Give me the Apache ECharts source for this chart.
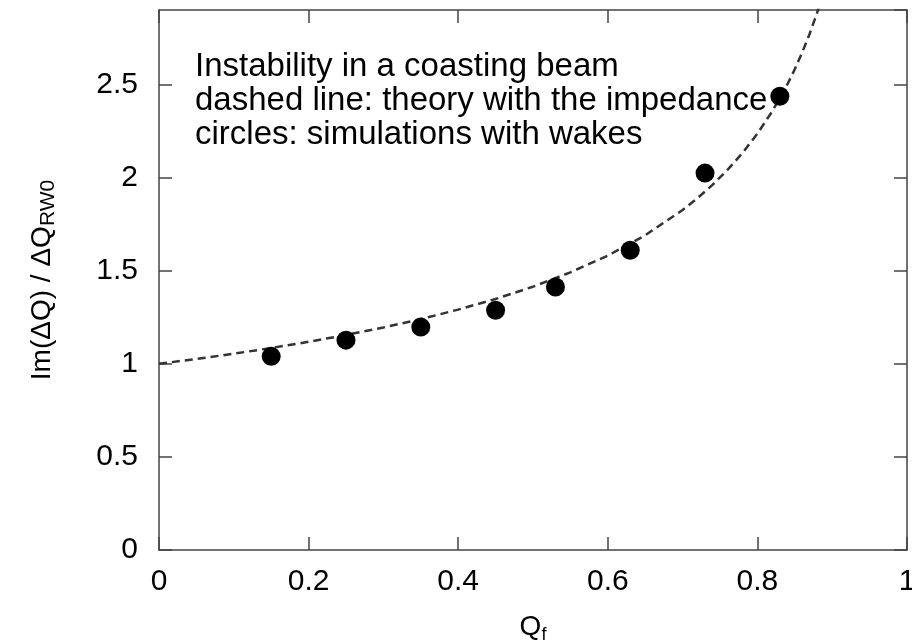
<!DOCTYPE html>
<html>
<head>
<meta charset="utf-8">
<script src="https://cdn.jsdelivr.net/npm/echarts@6/dist/echarts.min.js"></script>
<style>
html,body{margin:0;padding:0;background:#fff;}
#chart{width:912px;height:640px;}
</style>
</head>
<body>
<div id="chart"></div>
<script>
// Theory curve (dashed line)
const theoryQ = [0, 0.05, 0.1, 0.15, 0.2, 0.25, 0.3, 0.35, 0.4, 0.45, 0.5, 0.55, 0.6, 0.65, 0.7, 0.72, 0.74, 0.76, 0.78, 0.8, 0.82, 0.84, 0.85, 0.86, 0.87, 0.88, 0.89];
const theoryY = [1.000, 1.026, 1.054, 1.085, 1.118, 1.155, 1.195, 1.240, 1.291, 1.348, 1.414, 1.491, 1.581, 1.690, 1.826, 1.890, 1.961, 2.041, 2.132, 2.236, 2.357, 2.500, 2.582, 2.673, 2.774, 2.887, 3.015];
// Simulation points (circles)
const simQ = [0.15, 0.25, 0.35, 0.45, 0.53, 0.63, 0.73, 0.83];
const simY = [1.04, 1.127, 1.197, 1.288, 1.412, 1.61, 2.024, 2.437];
// Axis ticks
const xTicks = [0, 0.2, 0.4, 0.6, 0.8, 1];
const yTicks = [0, 0.5, 1, 1.5, 2, 2.5];
const annotation = ['Instability in a coasting beam', 'dashed line: theory with the impedance', 'circles: simulations with wakes'];

const FONT = 'Liberation Sans, Arial, Helvetica, sans-serif';
const axisColor = '#444';
const chart = echarts.init(document.getElementById('chart'), null, {renderer: 'canvas'});

const baseX = {
  type: 'value', min: 0, max: 1, interval: 0.2,
  axisLine: {show: true, onZero: false, lineStyle: {color: axisColor, width: 1.5}},
  axisTick: {show: true, inside: true, length: 13, lineStyle: {color: axisColor, width: 1.5}},
  splitLine: {show: false}
};
const baseY = {
  type: 'value', min: 0, max: 2.9, interval: 0.5,
  axisLine: {show: true, onZero: false, lineStyle: {color: axisColor, width: 1.5}},
  axisTick: {show: true, inside: true, length: 13, lineStyle: {color: axisColor, width: 1.5}},
  splitLine: {show: false}
};

chart.setOption({
  animation: false,
  backgroundColor: '#fff',
  grid: {left: 159, right: 5, top: 10, bottom: 90, containLabel: false, outerBoundsMode: 'none'},
  xAxis: [
    Object.assign({}, baseX, {
      position: 'bottom',
      name: '{m|Q}{s|f}',
      nameLocation: 'middle',
      nameGap: 60,
      nameTextStyle: {
        fontFamily: FONT, color: '#000',
        rich: {
          m: {fontSize: 28, fontFamily: FONT, color: '#000', lineHeight: 34},
          s: {fontSize: 18, fontFamily: FONT, color: '#000', lineHeight: 12, verticalAlign: 'bottom'}
        }
      },
      axisLabel: {
        show: true, margin: 17, fontSize: 30, fontFamily: FONT, color: '#000',
        formatter: v => xTicks.some(t => Math.abs(t - v) < 1e-9) ? String(+v.toFixed(1)) : ''
      }
    }),
    Object.assign({}, baseX, {position: 'top', axisLabel: {show: false}})
  ],
  yAxis: [
    Object.assign({}, baseY, {
      position: 'left',
      name: '{m|Im(ΔQ) / ΔQ}{s|RW0}',
      nameLocation: 'middle',
      nameRotate: 90,
      nameGap: 100,
      nameTextStyle: {
        fontFamily: FONT, color: '#000',
        rich: {
          m: {fontSize: 28, fontFamily: FONT, color: '#000', lineHeight: 34},
          s: {fontSize: 21, fontFamily: FONT, color: '#000', lineHeight: 12, verticalAlign: 'bottom'}
        }
      },
      axisLabel: {
        show: true, margin: 21, fontSize: 30, fontFamily: FONT, color: '#000',
        showMaxLabel: false,
        formatter: v => yTicks.some(t => Math.abs(t - v) < 1e-9) ? String(+v.toFixed(1)) : ''
      }
    }),
    Object.assign({}, baseY, {position: 'right', axisLabel: {show: false}})
  ],
  graphic: [{
    type: 'text',
    left: 195,
    top: 50,
    z: 100,
    style: {
      text: annotation.join('\n'),
      font: '33px ' + FONT,
      fill: '#000',
      lineHeight: 34
    }
  }],
  series: [
    {
      type: 'line',
      xAxisIndex: 0, yAxisIndex: 0,
      data: theoryQ.map((q, i) => [q, theoryY[i]]),
      showSymbol: false,
      symbol: 'none',
      clip: true,
      lineStyle: {color: '#333', width: 2.5, type: [8, 5]},
      z: 2
    },
    {
      type: 'scatter',
      xAxisIndex: 0, yAxisIndex: 0,
      data: simQ.map((q, i) => [q, simY[i]]),
      symbol: 'circle',
      symbolSize: 19,
      itemStyle: {color: '#000', opacity: 1},
      z: 3
    }
  ]
});
</script>
</body>
</html>
